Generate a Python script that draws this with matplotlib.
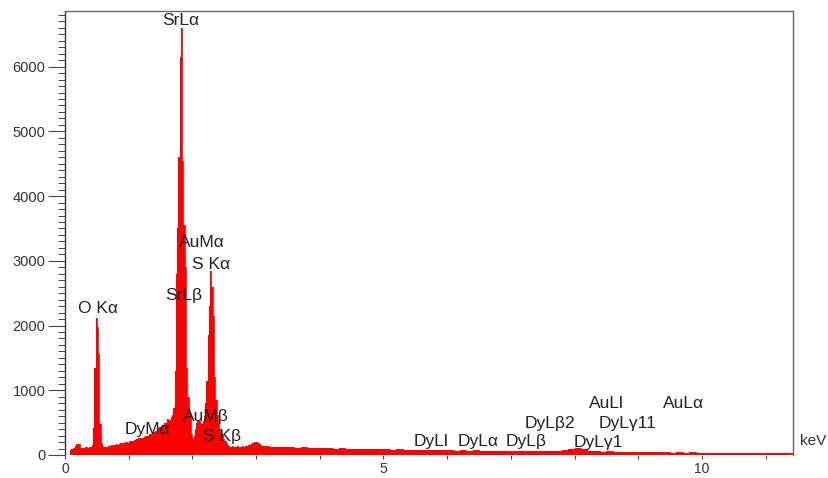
import numpy as np
import matplotlib
matplotlib.use("Agg")
import matplotlib.pyplot as plt
from matplotlib.ticker import MultipleLocator, FixedLocator

plt.rcParams['font.family'] = ['Liberation Sans', 'DejaVu Sans']

# ---- data ----
# fine channels: 0.00 .. 3.08 keV, 0.02 keV wide
fine_step = 0.02
fine_counts = [
    0, 0, 0, 0, 70, 95, 110, 90, 140, 175,
    150, 165, 115, 95, 110, 100, 120, 105, 115, 125,
    130, 160, 420, 1350, 2120, 1980, 1560, 480, 190, 135,
    115, 125, 130, 120, 140, 135, 150, 140, 160, 155,
    170, 160, 175, 185, 170, 190, 185, 195, 205, 190,
    210, 205, 220, 215, 235, 225, 240, 255, 245, 260,
    270, 265, 280, 295, 300, 290, 320, 330, 345, 360,
    350, 375, 395, 410, 430, 440, 470, 460, 490, 500,
    560, 520, 540, 580, 620, 720, 1300, 2800, 3500, 4600,
    6150, 6600, 4550, 3550, 2900, 1350, 900, 680, 600, 330,
    270, 300, 400, 500, 540, 520, 500, 480, 520, 600,
    800, 1150, 1850, 2300, 2840, 2600, 2150, 1200, 850, 620,
    480, 400, 340, 300, 250, 210, 180, 160, 145, 130,
    125, 135, 120, 130, 125, 140, 120, 130, 125, 135,
    130, 140, 135, 145, 150, 160, 175, 190, 205, 185,
    195, 180, 165, 150, 140,
]
# coarse channels: 3.1 .. 11.4 keV, 0.1 keV wide
coarse_start = 3.1
coarse_step = 0.1
coarse_counts = [
    135, 125, 130, 120, 125, 115, 120, 110, 115, 105,
    110, 100, 105, 95, 100, 90, 95, 90, 85, 90,
    80, 85, 80, 75, 80, 75, 80, 70, 75, 70,
    65, 70, 65, 70, 60, 65, 60, 65, 60, 55,
    60, 55, 60, 55, 60, 55, 60, 70, 90, 110,
    95, 65, 55, 50, 55, 45, 50, 45, 50, 40,
    45, 40, 45, 40, 35, 40, 35, 40, 35, 30,
    35, 30, 35, 30, 35, 30, 25, 30, 25, 30,
    25, 30, 25, 25,
]

peak_labels = ["SrL\u03b1", "AuM\u03b1", "S K\u03b1", "SrL\u03b2", "O K\u03b1",
               "DyM\u03b1", "AuM\u03b2", "S K\u03b2", "DyLl", "DyL\u03b1",
               "DyL\u03b2", "DyL\u03b22", "DyL\u03b31", "AuLl", "DyL\u03b311", "AuL\u03b1"]
label_kev = [1.82, 2.15, 2.30, 1.86, 0.52, 1.29, 2.22, 2.46, 5.74, 6.49,
             7.24, 7.62, 8.37, 8.50, 8.84, 9.71]
label_counts = [6720, 3280, 2950, 2460, 2260, 400, 590, 280, 215, 215,
                215, 480, 200, 790, 480, 790]

x_major = [0, 5, 10]
x_labels = ["0", "5", "10"]

# ---- build channel grid ----
fine_e = np.arange(len(fine_counts)) * fine_step
coarse_e = coarse_start + np.arange(len(coarse_counts)) * coarse_step
energy = np.concatenate([fine_e, coarse_e, [coarse_e[-1] + coarse_step]])
counts = np.concatenate([fine_counts, coarse_counts, [coarse_counts[-1]]])

W, H = 829, 478
fig = plt.figure(figsize=(W / 100, H / 100), dpi=100)
ax = fig.add_axes([65 / W, (H - 455) / H, (793 - 65) / W, (455 - 11) / H])

ax.fill_between(energy, 0, counts, step='post', color='#ff0000', lw=0)
ax.step(energy, counts, where='post', color='#ff0000', lw=0.6)

ax.set_xlim(0, 11.43)
ax.set_ylim(0, 6860)

for s in ['top', 'right']:
    ax.spines[s].set_color('#666666')
    ax.spines[s].set_linewidth(1.0)
ax.spines['left'].set_color('#333333')
ax.spines['left'].set_linewidth(1.0)
ax.spines['bottom'].set_visible(False)

ax.xaxis.set_major_locator(FixedLocator(x_major))
ax.set_xticklabels(x_labels)
ax.xaxis.set_minor_locator(MultipleLocator(1))
ax.yaxis.set_major_locator(MultipleLocator(1000))
ax.yaxis.set_minor_locator(MultipleLocator(100))

ax.tick_params(axis='x', which='both', direction='out', length=3, width=0.8,
               color='#444444', labelsize=10, labelcolor='#333333', pad=2)
ax.tick_params(axis='y', which='major', direction='out', length=12, width=0.8,
               color='#444444', labelsize=10.5, labelcolor='#333333', pad=2)
ax.tick_params(axis='y', which='minor', direction='out', length=5, width=0.7,
               color='#444444')

for lab, xk, yc in zip(peak_labels, label_kev, label_counts):
    ax.text(xk, yc, lab, ha='center', va='center', fontsize=12.5, color='#222222')

fig.text(800 / W, (H - 441) / H, "keV", ha='left', va='center',
         fontsize=11, color='#333333')

fig.savefig("out.png", dpi=100)
